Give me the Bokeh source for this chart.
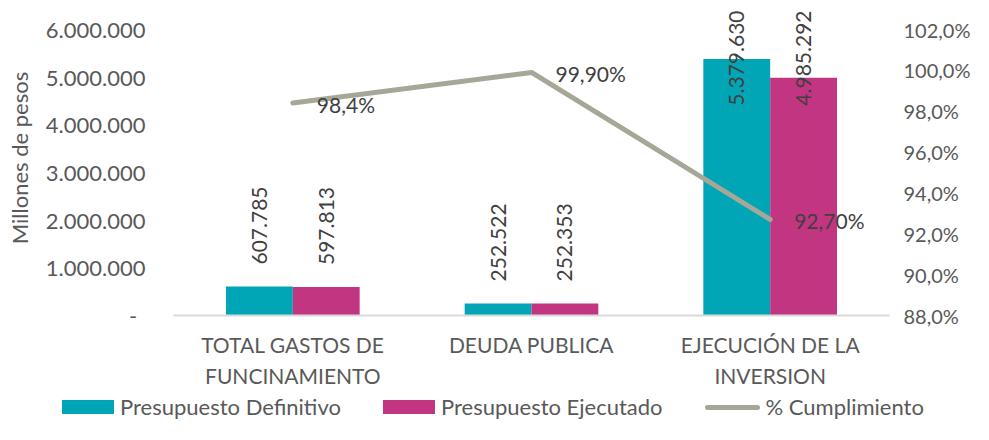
import math
from bokeh.plotting import figure
from bokeh.layouts import column
from bokeh.models import (FactorRange, Range1d, LinearAxis, FixedTicker, CustomJSTickFormatter,
                          ColumnDataSource, Div)
from bokeh.transform import dodge
from bokeh.core.properties import value
from bokeh.embed import file_html
from bokeh.resources import INLINE

# ---------------- data ----------------
categories = ["TOTAL GASTOS DE\nFUNCINAMIENTO", "DEUDA PUBLICA", "EJECUCIÓN DE LA\nINVERSION"]
presupuesto_definitivo = [607785, 252522, 5379630]
presupuesto_ejecutado = [597813, 252353, 4985292]
cumplimiento = [98.4, 99.9, 92.7]
cumplimiento_labels = ["98,4%", "99,90%", "92,70%"]
left_ticks = [0, 1000000, 2000000, 3000000, 4000000, 5000000, 6000000]
right_ticks = [88, 90, 92, 94, 96, 98, 100, 102]
series_names = ["Presupuesto Definitivo", "Presupuesto Ejecutado", "% Cumplimiento"]
y_axis_title = "Millones de pesos"

# ---------------- style ----------------
TEAL = "#00A6B5"
MAGENTA = "#C23581"
GRAY_LINE = "#A6A797"
AXIS_TXT = "#595959"
DATA_TXT = "#404040"
FONT = "Lato"
FS = "21px"

W, H_MAIN, H_LEG = 973, 390, 34
FRAME_L, FRAME_R, FRAME_B = 173, 890, 315
TICK_TOP_PX = 29
px_per_unit = (FRAME_B - TICK_TOP_PX) / left_ticks[-1]
y_end = FRAME_B / px_per_unit
r_px = (FRAME_B - TICK_TOP_PX) / (right_ticks[-1] - right_ticks[0])
r_end = right_ticks[0] + FRAME_B / r_px

p = figure(width=W, height=H_MAIN,
           x_range=FactorRange(*categories, range_padding=0),
           y_range=Range1d(0, y_end),
           output_backend="svg", toolbar_location=None,
           min_border_left=FRAME_L, min_border_right=W - FRAME_R,
           min_border_top=0, min_border_bottom=H_MAIN - FRAME_B)
p.extra_y_ranges = {"pct": Range1d(right_ticks[0], r_end)}
p.outline_line_color = None
p.xgrid.visible = False
p.ygrid.visible = False
p.background_fill_color = "white"
p.border_fill_color = "white"

def fmt(v):
    return f"{v:,}".replace(",", ".")

# bars
BAR_W = 0.28
src = ColumnDataSource(dict(cat=categories, d=presupuesto_definitivo, e=presupuesto_ejecutado))
p.vbar(x=dodge("cat", -BAR_W / 2, range=p.x_range), top="d", width=BAR_W, source=src,
       fill_color=TEAL, line_color=None)
p.vbar(x=dodge("cat", BAR_W / 2, range=p.x_range), top="e", width=BAR_W, source=src,
       fill_color=MAGENTA, line_color=None)

# line
lsrc = ColumnDataSource(dict(cat=categories, pct=cumplimiento, lab=cumplimiento_labels))
p.line(x="cat", y="pct", source=lsrc, y_range_name="pct", line_color=GRAY_LINE,
       line_width=5, line_cap="round", line_join="round")
p.text(x="cat", y="pct", text="lab", source=lsrc, y_range_name="pct", x_offset=24, y_offset=1,
       text_align="left", text_baseline="middle", text_color=DATA_TXT,
       text_font=value(FONT), text_font_size=FS)

# bar value labels (rotated); labels that would run past the top are kept inside the bar
LABEL_LEN_PX, GAP_PX, TOP_PAD = 100, 22, 10
for off, vals in ((-BAR_W / 2, presupuesto_definitivo), (BAR_W / 2, presupuesto_ejecutado)):
    outside = dict(cat=[], y=[], t=[])
    inside = dict(cat=[], y=[], t=[])
    for c, v in zip(categories, vals):
        if v * px_per_unit + GAP_PX + LABEL_LEN_PX < FRAME_B - TOP_PAD:
            outside["cat"].append(c); outside["y"].append(v); outside["t"].append(fmt(v))
        else:
            inside["cat"].append(c); inside["y"].append(y_end); inside["t"].append(fmt(v))
    for d, align, yoff in ((outside, "left", -GAP_PX), (inside, "right", TOP_PAD)):
        if not d["cat"]:
            continue
        p.text(x=dodge("cat", off, range=p.x_range), y="y", text="t",
               source=ColumnDataSource(d), angle=math.pi / 2, text_align=align,
               text_baseline="middle", y_offset=yoff, text_color=DATA_TXT,
               text_font=value(FONT), text_font_size=FS)

# axes
yax = p.yaxis[0]
yax.ticker = FixedTicker(ticks=left_ticks)
yax.formatter = CustomJSTickFormatter(code="""
if (tick == 0) { return '-\u00a0\u2009'; }
return Math.round(tick).toString().replace(/\\B(?=(\\d{3})+(?!\\d))/g, '.');
""")
yax.axis_line_color = None
yax.major_tick_line_color = None
yax.minor_tick_line_color = None
yax.major_label_standoff = 22
yax.major_label_text_color = AXIS_TXT
yax.major_label_text_font = FONT
yax.major_label_text_font_size = "22px"
yax.axis_label = y_axis_title
yax.axis_label_standoff = 10
yax.axis_label_text_color = AXIS_TXT
yax.axis_label_text_font = FONT
yax.axis_label_text_font_size = "22px"
yax.axis_label_text_font_style = "normal"

rax = LinearAxis(y_range_name="pct", ticker=FixedTicker(ticks=right_ticks))
rax.formatter = CustomJSTickFormatter(code="return tick.toFixed(1).replace('.', ',') + '%';")
rax.axis_line_color = None
rax.major_tick_line_color = None
rax.minor_tick_line_color = None
rax.major_label_standoff = 8
rax.major_label_text_color = AXIS_TXT
rax.major_label_text_font = FONT
rax.major_label_text_font_size = "20px"
p.add_layout(rax, "right")

xax = p.xaxis[0]
xax.axis_line_color = "#D9D9D9"
xax.axis_line_width = 2
xax.major_tick_line_color = None
xax.minor_tick_line_color = None
xax.major_label_standoff = 10
xax.major_label_text_color = AXIS_TXT
xax.major_label_text_font = FONT
xax.major_label_text_font_size = FS
xax.major_label_text_line_height = 1.25

# legend strip (HTML, real text)
swatches = [(TEAL, 52, 14, 0), (MAGENTA, 52, 14, 0), (GRAY_LINE, 55, 5, 3)]
items_html = "".join(
    f'<span style="display:inline-flex;align-items:center;margin-right:42px">'
    f'<span style="display:inline-block;width:{w}px;height:{h}px;background:{c};'
    f'border-radius:{r}px;margin-right:6px"></span>{name}</span>'
    for (c, w, h, r), name in zip(swatches, series_names))
legend_html = (f'<div style="display:flex;align-items:center;height:{H_LEG - 6}px;'
               f'padding-top:6px;padding-left:62px;font-family:{FONT};font-size:22px;'
               f'color:{AXIS_TXT};white-space:nowrap;line-height:24px">{items_html}</div>')
leg = Div(text=legend_html, width=W, height=H_LEG, margin=0)

layout = column(p, leg, spacing=0)
open("out.html", "w").write(file_html(layout, INLINE))
